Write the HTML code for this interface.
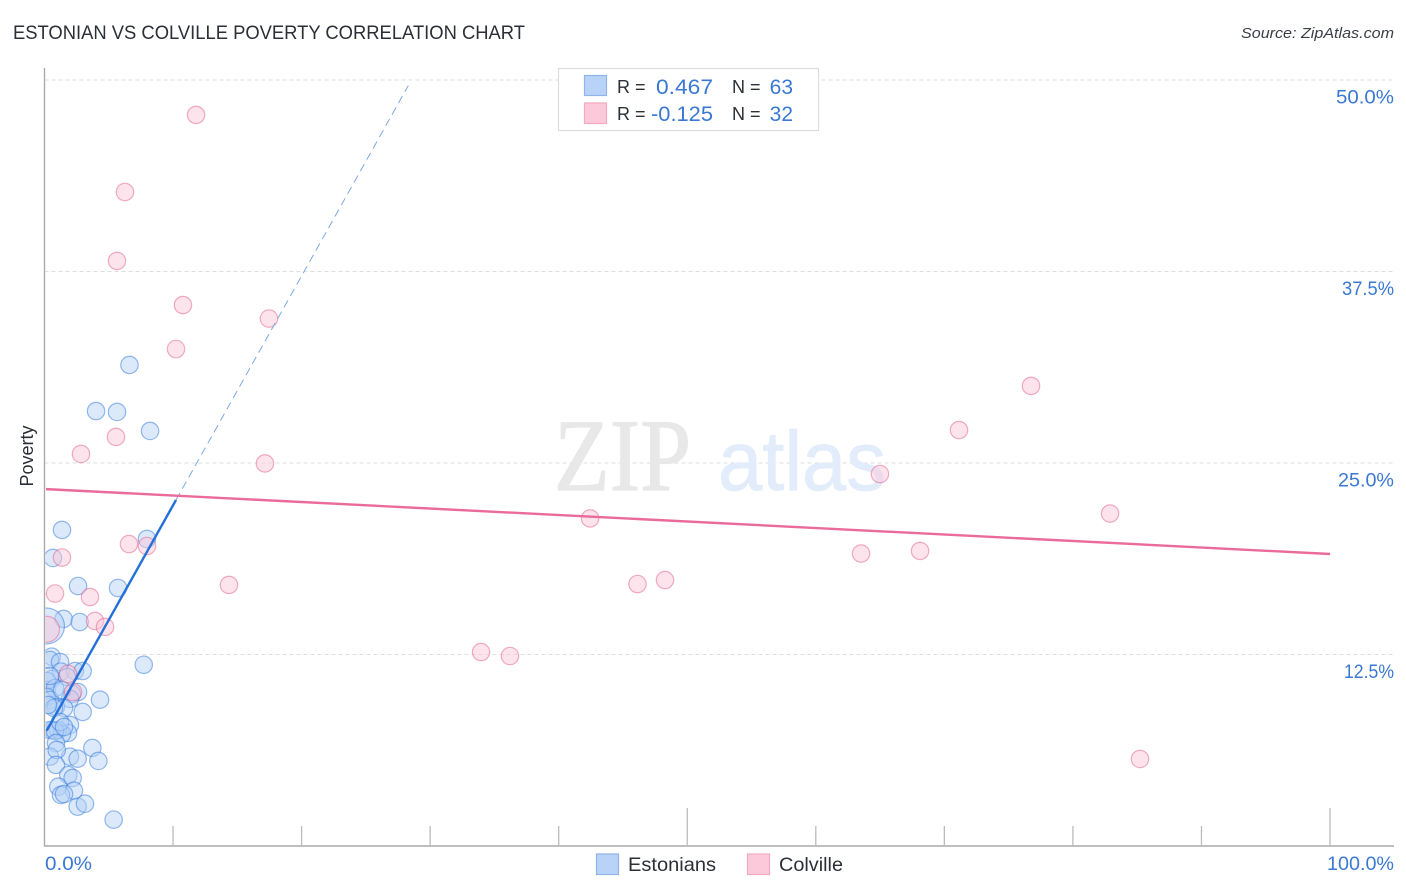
<!DOCTYPE html>
<html lang="en">
<head>
<meta charset="utf-8">
<title>Estonian vs Colville Poverty Correlation Chart</title>
<style>
html,body{margin:0;padding:0;background:#fff;width:1406px;height:892px;overflow:hidden}
svg{display:block;font-family:"Liberation Sans",sans-serif}
</style>
</head>
<body>
<svg id="chart" width="1406" height="892" viewBox="0 0 1406 892">
  <text x="13" y="39" font-size="19" fill="#2b2f36" textLength="512" lengthAdjust="spacingAndGlyphs">ESTONIAN VS COLVILLE POVERTY CORRELATION CHART</text>
  <text x="1394" y="38" font-size="15" font-style="italic" fill="#3a3f47" text-anchor="end" textLength="153" lengthAdjust="spacingAndGlyphs">Source: ZipAtlas.com</text>
  <g id="grid"></g>
  <g>
    <text x="554" y="490" font-family="'Liberation Serif',serif" font-size="103" fill="#e8e8e8" stroke="#e8e8e8" stroke-width="1.2" textLength="137" lengthAdjust="spacingAndGlyphs">ZIP</text>
    <text x="718" y="490" font-size="84" fill="#e3ecfb" stroke="#e3ecfb" stroke-width="0.8" textLength="168" lengthAdjust="spacingAndGlyphs">atlas</text>
  </g>
  <g id="points-estonian"></g>
  <g id="points-colville"></g>
  <g id="trends"></g>
  <rect x="0" y="60" width="45.5" height="790" fill="#fff"/>
  <g id="axes"></g>
  <text transform="translate(33,456) rotate(-90)" font-size="18" fill="#2b2f36" text-anchor="middle">Poverty</text>
  <g id="tick-labels"></g>

  <g>
    <rect x="558.5" y="68.5" width="260" height="62" fill="#fff" stroke="#dcdcdc" stroke-width="1.2"/>
    <rect x="584.5" y="75.5" width="22" height="20" fill="#b9d3f8" stroke="#8fb4ea" stroke-width="1.2"/>
    <rect x="584.5" y="103" width="22" height="20.5" fill="#fcc9da" stroke="#f0a9c1" stroke-width="1.2"/>
    <g font-size="18" fill="#2b2f36">
      <text x="617" y="93">R =</text>
      <text x="732" y="93">N =</text>
      <text x="617" y="120">R =</text>
      <text x="732" y="120">N =</text>
    </g>
    <g font-size="21" fill="#3a78d4" text-anchor="end">
      <text x="713" y="94" textLength="57" lengthAdjust="spacingAndGlyphs">0.467</text>
      <text x="793" y="94">63</text>
      <text x="713" y="121" textLength="62" lengthAdjust="spacingAndGlyphs">-0.125</text>
      <text x="793" y="121">32</text>
    </g>
  </g>

  <g>
    <rect x="596.5" y="854" width="22" height="20.5" fill="#b9d3f8" stroke="#8fb4ea" stroke-width="1.2"/>
    <text x="628" y="871" font-size="19.5" fill="#2b2f36" textLength="88" lengthAdjust="spacingAndGlyphs">Estonians</text>
    <rect x="747.5" y="854" width="22" height="20.5" fill="#fcc9da" stroke="#f0a9c1" stroke-width="1.2"/>
    <text x="779" y="871" font-size="19.5" fill="#2b2f36" textLength="64" lengthAdjust="spacingAndGlyphs">Colville</text>
  </g>
</svg>
<script>
const estonianX = [6.61,4.01,5.64,8.21,1.36,7.97,0.66,2.61,5.72,1.49,2.74,0.15,7.72,0.56,0.43,1.21,1.28,2.37,2.97,0.58,0.19,1.75,0.19,0.82,2.61,2.14,4.32,0.19,0.43,1.98,2.97,0.89,1.52,0.74,1.98,1.83,0.66,1.05,1.36,0.43,0.82,1.21,0.89,3.72,1.98,2.58,4.19,0.43,0.95,0.89,1.85,2.19,1.07,2.29,1.28,1.52,2.58,3.15,5.38,0.43,0.27,1.36,1.52];
const estonianY = [31.40,28.39,28.33,27.09,20.63,20.04,18.80,16.97,16.84,14.82,14.62,14.36,11.83,12.36,12.14,12.01,11.38,11.42,11.42,10.90,10.77,11.03,10.18,10.31,10.05,9.92,9.55,9.73,9.53,9.60,8.75,9.07,9.01,9.01,7.90,7.38,7.57,7.57,7.31,7.57,7.51,8.09,6.72,6.40,5.83,5.70,5.55,5.83,6.27,5.29,4.63,4.44,3.87,3.61,3.33,3.39,2.57,2.76,1.72,11.10,9.20,10.18,7.77];
const colvilleX = [11.79,6.26,5.64,10.77,17.46,10.23,76.74,71.14,5.56,2.84,17.15,64.99,82.89,42.44,6.57,7.97,1.36,63.52,68.11,14.35,46.13,48.27,0.82,3.54,3.93,4.71,0.15,33.96,36.21,85.22,1.83,2.22];
const colvilleY = [47.72,42.69,38.19,35.31,34.43,32.44,30.03,27.15,26.70,25.59,24.97,24.28,21.70,21.38,19.71,19.58,18.83,19.09,19.26,17.04,17.10,17.36,16.48,16.25,14.69,14.30,14.15,12.66,12.40,5.68,11.23,10.05];
const estonianLargeIndex = [11];
const colvilleLargeIndex = [26];
const estonianTrend = [7.27, 1.497];
const estonianTrendRange = [0.17, 10.23, 28.3];
const colvilleTrend = [23.3, -0.0424];
const colvilleTrendRange = [0.12, 100];
const yTickValues = [12.5, 25, 37.5, 50];
const yTickLabels = ['12.5%', '25.0%', '37.5%', '50.0%'];
const xTickValues = [10, 20, 30, 40, 50, 60, 70, 80, 90, 100];
const xMajorTicks = [50, 100];
const xEndLabels = ['0.0%', '100.0%'];

const NS = 'http://www.w3.org/2000/svg';
const xScale = v => 44.5 + v * 12.855;
const yScale = v => 846 - v * 15.32;

function make(tag, parent, attrs) {
  const el = document.createElementNS(NS, tag);
  for (const k in attrs) el.setAttribute(k, attrs[k]);
  parent.appendChild(el);
  return el;
}

function labelWidth(s) {
  let w = 58;
  for (const ch of s) {
    if (ch === '1' || ch === '7') w -= 6;
    if (ch === '2') w -= 2;
  }
  return w;
}

const gridG = document.getElementById('grid');
yTickValues.forEach(v => {
  const g = make('line', gridG, {x1: 44.5, x2: 1394, y1: yScale(v), y2: yScale(v), stroke: '#dedede', 'stroke-width': 1, 'stroke-dasharray': '4 3'});
  
  
});

const axesG = document.getElementById('axes');
const yAxis = make('line', axesG, {x1: 44.5, x2: 44.5, y1: 68, y2: 846.5, stroke: '#aaaaaa', 'stroke-width': 1.4});


const xAxis = make('line', axesG, {x1: 44, x2: 1394, y1: 846, y2: 846, stroke: '#aaaaaa', 'stroke-width': 1.4});


xTickValues.forEach(v => {
  const top = xMajorTicks.includes(v) ? 808 : 826;
  const t = make('line', axesG, {x1: xScale(v), x2: xScale(v), y1: top, y2: 846, stroke: '#bbbbbb', 'stroke-width': 1.3});
  
  
});

function drawPoints(groupId, xs, ys, largeIdx, fill, stroke, r, bigR, name) {
  const g = document.getElementById(groupId);
  xs.forEach((x, i) => {
    const c = make('circle', g, {cx: xScale(x), cy: yScale(ys[i]), r: largeIdx.includes(i) ? bigR : r, fill: fill, 'fill-opacity': 0.48, stroke: stroke, 'stroke-opacity': 0.5, 'stroke-width': 1.2});
    
    
  });
}
drawPoints('points-estonian', estonianX, estonianY, estonianLargeIndex, '#b4d0f6', '#2f78da', 8.7, 18, 'estonians-point');
drawPoints('points-colville', colvilleX, colvilleY, colvilleLargeIndex, '#fbc6d8', '#e2608c', 8.7, 13, 'colville-point');

const trendG = document.getElementById('trends');
const estAt = x => estonianTrend[0] + estonianTrend[1] * x;
const colAt = x => colvilleTrend[0] + colvilleTrend[1] * x;
const estDash = make('line', trendG, {x1: xScale(estonianTrendRange[1]), y1: yScale(estAt(estonianTrendRange[1])), x2: xScale(estonianTrendRange[2]), y2: yScale(estAt(estonianTrendRange[2])), stroke: '#7ea8e4', 'stroke-width': 1, 'stroke-dasharray': '8 5'});


const estSolid = make('line', trendG, {x1: xScale(estonianTrendRange[0]), y1: yScale(estAt(estonianTrendRange[0])), x2: xScale(estonianTrendRange[1]), y2: yScale(estAt(estonianTrendRange[1])), stroke: '#2270d8', 'stroke-width': 2.4});


const colSolid = make('line', trendG, {x1: xScale(colvilleTrendRange[0]), y1: yScale(colAt(colvilleTrendRange[0])), x2: xScale(colvilleTrendRange[1]), y2: yScale(colAt(colvilleTrendRange[1])), stroke: '#ea6a9a', 'stroke-width': 2.4});



const labelG = document.getElementById('tick-labels');
yTickValues.forEach((v, i) => {
  const t = make('text', labelG, {x: 1394, y: yScale(v) + 23.5, 'font-size': 19.5, fill: '#3a78d4', 'text-anchor': 'end', textLength: labelWidth(yTickLabels[i]), lengthAdjust: 'spacingAndGlyphs'});
  t.textContent = yTickLabels[i];
  
  
});
const xL = make('text', labelG, {x: 45, y: 870, 'font-size': 19.5, fill: '#3a78d4', textLength: 47, lengthAdjust: 'spacingAndGlyphs'});
xL.textContent = xEndLabels[0];


const xR = make('text', labelG, {x: 1394, y: 870, 'font-size': 19.5, fill: '#3a78d4', 'text-anchor': 'end', textLength: 67, lengthAdjust: 'spacingAndGlyphs'});
xR.textContent = xEndLabels[1];


</script>
</body>
</html>
